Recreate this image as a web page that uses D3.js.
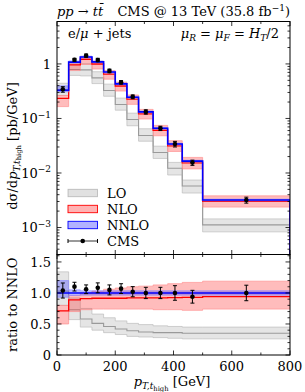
<!DOCTYPE html>
<html><head><meta charset="utf-8">
<script src="https://cdn.jsdelivr.net/npm/d3@7"></script>
<style>
body{margin:0;background:#fff;}
text{font-family:"DejaVu Serif","Liberation Serif",serif;fill:#000;}
</style></head>
<body><svg id="c" width="305" height="392"></svg>
<script>
// bin edges (GeV)
const binEdges = [0,40,80,120,160,200,240,280,330,380,430,500,800];
// NNLO central (pb/GeV)
const nnlo = [0.33,1.08,1.34,1.09,0.71,0.43,0.245,0.132,0.066,0.034,0.0165,0.0032];
// NNLO band, ratio to NNLO
const nnloLo = [0.93,0.96,0.965,0.965,0.965,0.965,0.965,0.965,0.965,0.965,0.965,0.965];
const nnloHi = [1.20,1.05,1.035,1.035,1.035,1.035,1.035,1.035,1.035,1.035,1.035,1.035];
// NLO, ratio to NNLO
const nloC  = [0.71,0.89,0.91,0.915,0.915,0.915,0.92,0.92,0.92,0.925,0.93,0.94];
const nloLo = [0.50,0.70,0.73,0.74,0.74,0.74,0.74,0.74,0.73,0.73,0.72,0.74];
const nloHi = [0.80,0.96,1.00,1.03,1.06,1.08,1.10,1.11,1.13,1.15,1.17,1.19];
// LO, ratio to NNLO
const loC  = [1.03,0.73,0.58,0.51,0.46,0.42,0.39,0.37,0.36,0.36,0.35,0.35];
const loLo = [0.80,0.57,0.45,0.40,0.36,0.33,0.30,0.29,0.28,0.27,0.26,0.26];
const loHi = [1.34,0.92,0.75,0.66,0.60,0.55,0.51,0.49,0.47,0.46,0.45,0.45];
// CMS data (pb/GeV)
const cmsX   = [20,60,100,140,180,220,260,305,355,405,465,650];
const cmsVal = [0.343,1.19,1.42,1.18,0.745,0.46,0.25,0.132,0.066,0.034,0.0155,0.0032];
const cmsErr = [0.04,0.076,0.094,0.087,0.057,0.034,0.02,0.012,0.006,0.004,0.0017,0.0004];
// tick labels
const xTicks = [0,200,400,600,800];
const yMainTicks = [1,0.1,0.01,0.001];
const yMainLabels = [["1",""],["10","−1"],["10","−2"],["10","−3"]];
const yRatioTicks = [0,0.5,1.0,1.5];
const yRatioLabels = ["0","0.5","1.0","1.5"];

const svg = d3.select("#c");
const L=57, R=290, T=21.5, M=254.5, B=355;
const x = d3.scaleLinear().domain([0,800]).range([L,R]);
const y = d3.scaleLog().domain([3.2e-4,6]).range([M,T]);
const yr = d3.scaleLinear().domain([0,1.62]).range([B,M]);

const defs = svg.append("defs");
defs.append("clipPath").attr("id","cm").append("rect").attr("x",L).attr("y",T).attr("width",R-L).attr("height",M-T);
defs.append("clipPath").attr("id","cr").append("rect").attr("x",L).attr("y",M).attr("width",R-L).attr("height",B-M);

function pts(vals){ return binEdges.map((e,i)=>({x:e,v:vals[Math.min(i,vals.length-1)]})); }
function pts2(lo,hi){ return binEdges.map((e,i)=>{const k=Math.min(i,lo.length-1);return {x:e,lo:lo[k],hi:hi[k]};}); }

const gM = svg.append("g").attr("clip-path","url(#cm)");
const gR = svg.append("g").attr("clip-path","url(#cr)");

const styles = {
  lo:{fill:"#b4b4b4",fo:0.35,edge:"#b8b8b8",line:"#9a9a9a",lw:1.1},
  nlo:{fill:"#ff3030",fo:0.32,edge:"#ff8a8a",line:"#ff0000",lw:1.3},
  nnlo:{fill:"#3030ff",fo:0.32,edge:"#8a8aff",line:"#0000ff",lw:1.6}
};

function drawSet(g, ys, cen, lo, hi, st, closeEnd){
  const area = d3.area().curve(d3.curveStepAfter).x(d=>x(d.x)).y0(d=>ys(d.lo)).y1(d=>ys(d.hi));
  g.append("path").datum(pts2(lo,hi)).attr("d",area)
   .attr("fill",st.fill).attr("fill-opacity",st.fo).attr("stroke",st.edge).attr("stroke-width",0.8).attr("stroke-opacity",0.8);
  const line = d3.line().curve(d3.curveStepAfter).x(d=>x(d.x)).y(d=>ys(d.v));
  let p = pts(cen);
  if(closeEnd){ p = p.concat([{x:800,v:ys.domain()[0]}]); }
  g.append("path").datum(p).attr("d",line).attr("fill","none").attr("stroke",st.line).attr("stroke-width",st.lw);
}

// main panel absolute values
const mul = (a)=>a.map((r,i)=>r*nnlo[i]);
drawSet(gM, y, mul(loC), mul(loLo), mul(loHi), styles.lo, true);
drawSet(gM, y, mul(nloC), mul(nloLo), mul(nloHi), styles.nlo, true);
drawSet(gM, y, nnlo, mul(nnloLo), mul(nnloHi), styles.nnlo, true);
// ratio panel
const ones = nnlo.map(v=>v/v);
drawSet(gR, yr, loC, loLo, loHi, styles.lo, false);
drawSet(gR, yr, nloC, nloLo, nloHi, styles.nlo, false);
drawSet(gR, yr, ones, nnloLo, nnloHi, styles.nnlo, false);

// CMS points
function drawCMS(g, ys, vals, errs){
  const cg = g.append("g");
  vals.forEach((v,i)=>{
    const cx=x(cmsX[i]);
    const y1=ys(v+errs[i]), y0=ys(v-errs[i]);
    cg.append("line").attr("x1",cx).attr("x2",cx).attr("y1",y0).attr("y2",y1).attr("stroke","#000").attr("stroke-width",1);
    [y0,y1].forEach(yy=>cg.append("line").attr("x1",cx-2).attr("x2",cx+2).attr("y1",yy).attr("y2",yy).attr("stroke","#000").attr("stroke-width",1));
    cg.append("circle").attr("cx",cx).attr("cy",ys(v)).attr("r",2.3).attr("fill","#000");
  });
}
drawCMS(svg, y, cmsVal, cmsErr);
drawCMS(svg, yr, cmsVal.map((v,i)=>v/nnlo[i]), cmsErr.map((e,i)=>e/nnlo[i]));

// frames
[[T,M],[M,B]].forEach(([a,b])=>{
  svg.append("rect").attr("x",L).attr("y",a).attr("width",R-L).attr("height",b-a).attr("fill","none").attr("stroke","#000").attr("stroke-width",1);
});

// ticks
function tick(x1,y1,x2,y2){ svg.append("line").attr("x1",x1).attr("y1",y1).attr("x2",x2).attr("y2",y2).attr("stroke","#000").attr("stroke-width",0.8); }
const xMinor = d3.range(0,801,100);
[[T,1],[M,-1],[M,1],[B,-1]].forEach(([yy,dir])=>{
  xMinor.forEach(v=>{ const maj = v%200===0; tick(x(v),yy,x(v),yy+dir*(maj?4.5:2.5)); });
});
// main y log ticks
const logT=[];
for(let e=-4;e<=0;e++){ for(let m=1;m<=9;m++){ const v=m*Math.pow(10,e); if(v>=3.2e-4 && v<=6) logT.push({v,maj:m===1}); } }
logT.forEach(t=>{ const yy=y(t.v); const len=t.maj?4.5:2.5; tick(L,yy,L+len,yy); tick(R,yy,R-len,yy); });
// ratio ticks
d3.range(0,1.61,0.1).forEach(v=>{ const maj=Math.abs(v*2-Math.round(v*2))<1e-6; const yy=yr(v); const len=maj?4.5:2.5; tick(L,yy,L+len,yy); tick(R,yy,R-len,yy); });

const fs=13, fsSub=9, fsSS=6.8;
// y tick labels
yMainTicks.forEach((v,i)=>{
  const t=svg.append("text").attr("x",L-6).attr("y",y(v)+4.6).attr("text-anchor","end").attr("font-size",fs);
  const lab=yMainLabels[i];
  if(lab[1]===""){ t.text(lab[0]); }
  else { t.append("tspan").text(lab[0]); t.append("tspan").attr("font-size",fsSub).attr("dy",-5.5).text(lab[1]); }
});
yRatioTicks.forEach((v,i)=>{
  svg.append("text").attr("x",L-6).attr("y",yr(v)+4.6).attr("text-anchor","end").attr("font-size",fs).text(yRatioLabels[i]);
});
xTicks.forEach(v=>{
  svg.append("text").attr("x",x(v)).attr("y",B+16).attr("text-anchor","middle").attr("font-size",fs).text(String(v));
});

// x label
{
  const t=svg.append("text").attr("x",x(395)).attr("y",386).attr("text-anchor","middle").attr("font-size",fs);
  t.append("tspan").attr("font-style","italic").text("p");
  t.append("tspan").attr("font-size",fsSub).attr("dy",3).attr("font-style","italic").text("T,t");
  t.append("tspan").attr("font-size",fsSS).attr("dy",1.5).text("high");
  t.append("tspan").attr("dy",-4.5).text(" [GeV]");
}
// y labels
{
  const t=svg.append("text").attr("transform",`translate(16.5,${(T+M)/2+8}) rotate(-90)`).attr("text-anchor","middle").attr("font-size",fs);
  t.append("tspan").text("dσ/d");
  t.append("tspan").attr("font-style","italic").text("p");
  t.append("tspan").attr("font-size",fsSub).attr("dy",3).attr("font-style","italic").text("T,t");
  t.append("tspan").attr("font-size",fsSS).attr("dy",1.5).text("high");
  t.append("tspan").attr("dy",-4.5).text(" [pb/GeV]");
  svg.append("text").attr("transform",`translate(16.5,${(M+B)/2}) rotate(-90)`).attr("text-anchor","middle").attr("font-size",fs).text("ratio to NNLO");
}
// title
{
  const t=svg.append("text").attr("x",57).attr("y",16).attr("font-size",fs);
  t.append("tspan").attr("font-style","italic").text("pp");
  t.append("tspan").text(" → ");
  t.append("tspan").attr("font-style","italic").text("t");
  t.append("tspan").attr("font-style","italic").text("t̄");
  const t2=svg.append("text").attr("x",290).attr("y",16).attr("font-size",fs).attr("text-anchor","end");
  t2.append("tspan").text("CMS @ 13 TeV (35.8 fb");
  t2.append("tspan").attr("font-size",fsSub).attr("dy",-5.5).text("−1");
  t2.append("tspan").attr("dy",5.5).text(")");
}
// in-plot texts
svg.append("text").attr("x",68).attr("y",38).attr("font-size",fs).html('e/<tspan font-style="italic">μ</tspan> + jets');
{
  const t=svg.append("text").attr("x",279).attr("y",38).attr("font-size",fs).attr("text-anchor","end");
  t.append("tspan").attr("font-style","italic").text("μ");
  t.append("tspan").attr("font-style","italic").attr("font-size",fsSub).attr("dy",2.5).text("R");
  t.append("tspan").attr("dy",-2.5).text(" = ");
  t.append("tspan").attr("font-style","italic").text("μ");
  t.append("tspan").attr("font-style","italic").attr("font-size",fsSub).attr("dy",2.5).text("F");
  t.append("tspan").attr("dy",-2.5).text(" = ");
  t.append("tspan").attr("font-style","italic").text("H");
  t.append("tspan").attr("font-style","italic").attr("font-size",fsSub).attr("dy",2.5).text("T");
  t.append("tspan").attr("dy",-2.5).text("/2");
}
// legend
const legItems=[["LO",styles.lo],["NLO",styles.nlo],["NNLO",styles.nnlo]];
const legY=[193,209,225,241];
legItems.forEach(([name,st],i)=>{
  svg.append("rect").attr("x",68).attr("y",legY[i]-3.7).attr("width",29.5).attr("height",7.4)
    .attr("fill",st.fill).attr("fill-opacity",st.fo+0.05).attr("stroke",st.line).attr("stroke-width",0.9).attr("stroke-opacity",i===0?0.6:1);
  svg.append("text").attr("x",107).attr("y",legY[i]+4.8).attr("font-size",fs).text(name);
});
{
  const yy=legY[3];
  tick(68,yy,97.5,yy);
  svg.append("line").attr("x1",68).attr("x2",68).attr("y1",yy-2).attr("y2",yy+2).attr("stroke","#000");
  svg.append("line").attr("x1",97.5).attr("x2",97.5).attr("y1",yy-2).attr("y2",yy+2).attr("stroke","#000");
  svg.append("circle").attr("cx",82.7).attr("cy",yy).attr("r",2.3).attr("fill","#000");
  svg.append("text").attr("x",107).attr("y",yy+4.8).attr("font-size",fs).text("CMS");
}
</script></body></html>
